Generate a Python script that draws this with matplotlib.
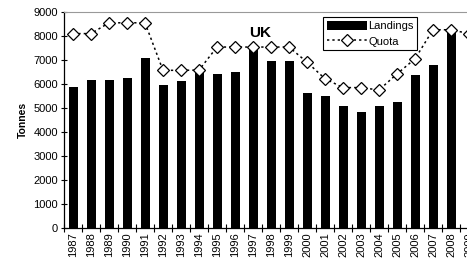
import numpy as np
import matplotlib.pyplot as plt

plt.rcParams['font.family'] = ['Liberation Sans', 'DejaVu Sans']

years = [str(y) for y in range(1987, 2010)]
landings = [5860, 6170, 6150, 6230, 7090, 5950, 6140, 6600, 6400, 6520,
            7620, 6950, 6970, 5620, 5500, 5080, 4820, 5090, 5250, 6360,
            6790, 8320, np.nan]
quota = [8100, 8100, 8550, 8550, 8550, 6570, 6570, 6580, 7540, 7540,
         7540, 7540, 7540, 6910, 6220, 5850, 5850, 5750, 6420, 7050,
         8260, 8260, 8100]

fig = plt.figure(figsize=(4.67, 2.64), dpi=100)
ax = fig.add_axes([64/467, 36/264, 414/467, 216/264])

x = np.arange(len(years))
bars = ax.bar(x, landings, width=0.5, color='black', label='Landings', zorder=2)
line, = ax.plot(x, quota, linestyle=(0, (1.5, 2)), color='black', lw=1.1,
                marker='D', ms=6, mfc='white', mec='black', mew=0.9,
                label='Quota', zorder=3)

ax.set_xlim(-0.5, len(years) - 0.5)
ax.set_ylim(0, 9000)
ax.set_yticks(range(0, 9001, 1000))
ax.tick_params(axis='y', direction='inout', length=5, width=0.8, labelsize=8, pad=2)

# ticks between bars, labels under bars
ax.set_xticks(np.arange(-0.5, len(years), 1.0))
ax.set_xticklabels([])
ax.tick_params(axis='x', which='major', direction='inout', length=6, width=0.8)
ax.set_xticks(x, minor=True)
ax.set_xticklabels(years, minor=True, rotation=90, fontsize=8)
ax.tick_params(axis='x', which='minor', length=0, pad=3)

ax.spines['right'].set_visible(False)
ax.spines['top'].set_color('#999999')
ax.spines['left'].set_linewidth(0.9)
ax.spines['bottom'].set_linewidth(0.9)

ax.set_ylabel('Tonnes', fontsize=7.5, fontweight='bold', labelpad=4)
ax.text(10.4, 7950, 'UK', fontsize=11, fontweight='bold', ha='center')

leg = ax.legend([bars, line], ['Landings', 'Quota'], loc='upper left',
                bbox_to_anchor=(0.626, 0.975), fontsize=8,
                frameon=True, fancybox=False, framealpha=1, borderpad=0.35,
                handlelength=3.6, handleheight=0.8, handletextpad=0.1,
                labelspacing=0.45, borderaxespad=0)
leg.get_frame().set_edgecolor('black')
leg.get_frame().set_linewidth(0.8)

fig.savefig('out.png', dpi=100)
